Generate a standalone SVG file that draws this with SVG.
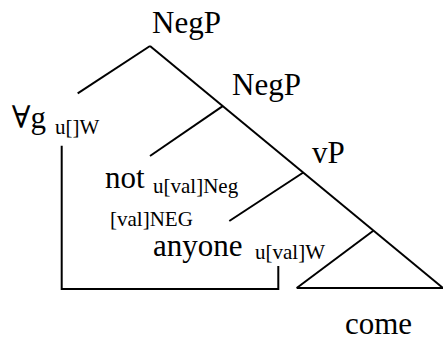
<svg xmlns="http://www.w3.org/2000/svg" width="443" height="341" viewBox="0 0 443 341">
<style>
.big{font-family:'Liberation Serif','DejaVu Serif',serif;font-size:31px;fill:#000}
.sm{font-family:'Liberation Serif','DejaVu Serif',serif;font-size:21px;fill:#000}
.ln{stroke:#000;stroke-width:2;fill:none}
</style>
<rect width="443" height="341" fill="#fff"/>
<g id="connectors">
<line class="ln" x1="150" y1="46" x2="77.7" y2="93.3"/>
<line class="ln" x1="150" y1="46" x2="443" y2="288"/>
<line class="ln" x1="222.7" y1="106.2" x2="150" y2="156"/>
<line class="ln" x1="303.3" y1="172.5" x2="229.3" y2="221"/>
<line class="ln" x1="296.7" y1="288" x2="373.3" y2="230.7"/>
<line class="ln" x1="296.7" y1="288" x2="443" y2="288"/>
<polyline class="ln" points="61.7,145.7 61.7,289 278.3,289 278.3,266"/>
</g>
<g id="n-negp-top"><text class="big" x="152" y="33">NegP</text></g>
<g id="n-negp-mid"><text class="big" x="232" y="95">NegP</text></g>
<g id="n-vp"><text class="big" x="312" y="163">vP</text></g>
<g id="n-forall"><text class="big" x="11.7" y="128">∀g</text><text class="sm" x="55" y="134">u[]W</text></g>
<g id="n-not"><text class="big" x="105" y="188">not</text><text class="sm" x="153" y="193">u[val]Neg</text></g>
<g id="n-valneg"><text class="sm" x="110" y="226">[val]NEG</text></g>
<g id="n-anyone"><text class="big" x="153" y="256">anyone</text><text class="sm" x="255" y="259">u[val]W</text></g>
<g id="n-come"><text class="big" x="345" y="333.5">come</text></g>
</svg>
